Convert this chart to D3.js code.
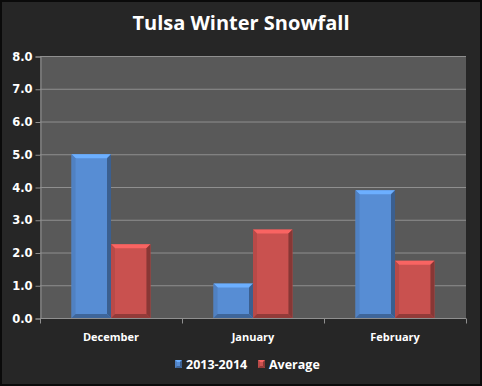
<!doctype html>
<html lang="en">
  <head>
    <meta charset="utf-8">
    <title>Tulsa Winter Snowfall</title>
    <style>
      body { margin: 0; background: #262626; }
      text { font-family: "Open Sans", "Liberation Sans", sans-serif; fill: #ffffff; }
    </style>
  </head>
  <body>
    <div id="chart"></div>
    <script src="https://d3js.org/d3.v7.min.js"></script>
    <script>
    // data
    var months = ["December", "January", "February"];
    var seriesNames = ["2013-2014", "Average"];
    var season = [5.0, 1.05, 3.9];
    var average = [2.25, 2.7, 1.75];
    var yTicks = [0, 1, 2, 3, 4, 5, 6, 7, 8];
    var colors = ["#578dd4", "#c9514f"];

    var W = 482, H = 386;
    var plot = {left: 40, right: 466, top: 56, bottom: 318};

    var svg = d3.select("#chart").append("svg")
        .attr("width", W).attr("height", H);

    svg.append("rect")
        .attr("x", 1).attr("y", 1).attr("width", W - 2).attr("height", H - 2)
        .attr("fill", "#262626").attr("stroke", "#0a0a0a").attr("stroke-width", 2);

    svg.append("text")
        .attr("x", W / 2).attr("y", 30)
        .attr("text-anchor", "middle")
        .attr("font-size", 20).attr("font-weight", "bold")
        .text("Tulsa Winter Snowfall");

    var x = d3.scaleBand().domain(months).range([plot.left, plot.right]).paddingInner(0).paddingOuter(0);
    var y = d3.scaleLinear().domain([0, 8]).range([plot.bottom, plot.top]);
    var x1 = d3.scaleBand().domain(seriesNames).range([0, x.bandwidth()]).paddingInner(0).paddingOuter(0.8);

    svg.append("rect")
        .attr("x", plot.left).attr("y", plot.top)
        .attr("width", plot.right - plot.left).attr("height", plot.bottom - plot.top)
        .attr("fill", "#595959");

    // grid lines
    svg.append("g").selectAll("line")
      .data(yTicks.slice(1))
      .join("line")
        .attr("x1", plot.left).attr("x2", plot.right)
        .attr("y1", function(d){ return y(d) + 0.5; })
        .attr("y2", function(d){ return y(d) + 0.5; })
        .attr("stroke", "#8f8f8f").attr("stroke-width", 1);

    // y axis
    var yAxis = svg.append("g")
        .attr("transform", "translate(" + (plot.left + 0.5) + ",0.5)")
        .call(d3.axisLeft(y).tickValues(yTicks).tickFormat(d3.format(".1f")).tickSize(5).tickPadding(3));
    yAxis.selectAll("path, line").attr("stroke", "#8f8f8f");
    yAxis.selectAll("text")
        .style("font-family", "'DejaVu Sans', sans-serif")
        .style("font-size", "11.5px").style("font-weight", "bold").style("fill", "#fff");

    // x axis
    var xAxis = svg.append("g")
        .attr("transform", "translate(0," + (plot.bottom + 0.5) + ")");
    xAxis.append("line")
        .attr("x1", plot.left).attr("x2", plot.right)
        .attr("stroke", "#8f8f8f");
    xAxis.selectAll("line.tk")
      .data(months.concat(["end"]))
      .join("line").attr("class", "tk")
        .attr("x1", function(d, i){ return plot.left + i * x.bandwidth() + 0.5; })
        .attr("x2", function(d, i){ return plot.left + i * x.bandwidth() + 0.5; })
        .attr("y1", 0).attr("y2", 5)
        .attr("stroke", "#8f8f8f");
    xAxis.selectAll("text")
      .data(months)
      .join("text")
        .attr("x", function(d){ return x(d) + x.bandwidth() / 2; })
        .attr("y", 22)
        .attr("text-anchor", "middle")
        .attr("font-size", 11).attr("font-weight", "bold")
        .text(function(d){ return d; });

    // bevelled bars
    function bevel(g, x0, y0, w, h, color, b) {
      var c = d3.color(color);
      b = Math.min(b, h / 2, w / 2);
      g.append("rect").attr("x", x0).attr("y", y0).attr("width", w).attr("height", h).attr("fill", color);
      var pts = {
        top: [[x0, y0], [x0 + w, y0], [x0 + w - b, y0 + b], [x0 + b, y0 + b]],
        left: [[x0, y0], [x0 + b, y0 + b], [x0 + b, y0 + h - b], [x0, y0 + h]],
        right: [[x0 + w, y0], [x0 + w, y0 + h], [x0 + w - b, y0 + h - b], [x0 + w - b, y0 + b]],
        bottom: [[x0, y0 + h], [x0 + b, y0 + h - b], [x0 + w - b, y0 + h - b], [x0 + w, y0 + h]]
      };
      var fills = {
        top: c.brighter(0.6), left: c.darker(0.25), right: c.darker(1.1), bottom: c.darker(0.9)
      };
      Object.keys(pts).forEach(function(k){
        g.append("polygon").attr("points", pts[k].map(function(p){ return p.join(","); }).join(" "))
          .attr("fill", fills[k]);
      });
    }

    var series = [season, average];
    var bars = svg.append("g");
    months.forEach(function(m, i){
      series.forEach(function(s, j){
        var bx = x(m) + x1(seriesNames[j]);
        bevel(bars, bx, y(s[i]), x1.bandwidth(), y(0) - y(s[i]), colors[j], 4);
      });
    });

    // legend
    var legend = svg.append("g");
    var lx = [175, 258];
    seriesNames.forEach(function(n, j){
      bevel(legend, lx[j], 360, 7, 8, colors[j], 2);
      legend.append("text")
        .attr("x", lx[j] + 11).attr("y", 368.5)
        .attr("font-size", 12.5).attr("font-weight", "bold")
        .text(n);
    });
    </script>
  </body>
</html>
